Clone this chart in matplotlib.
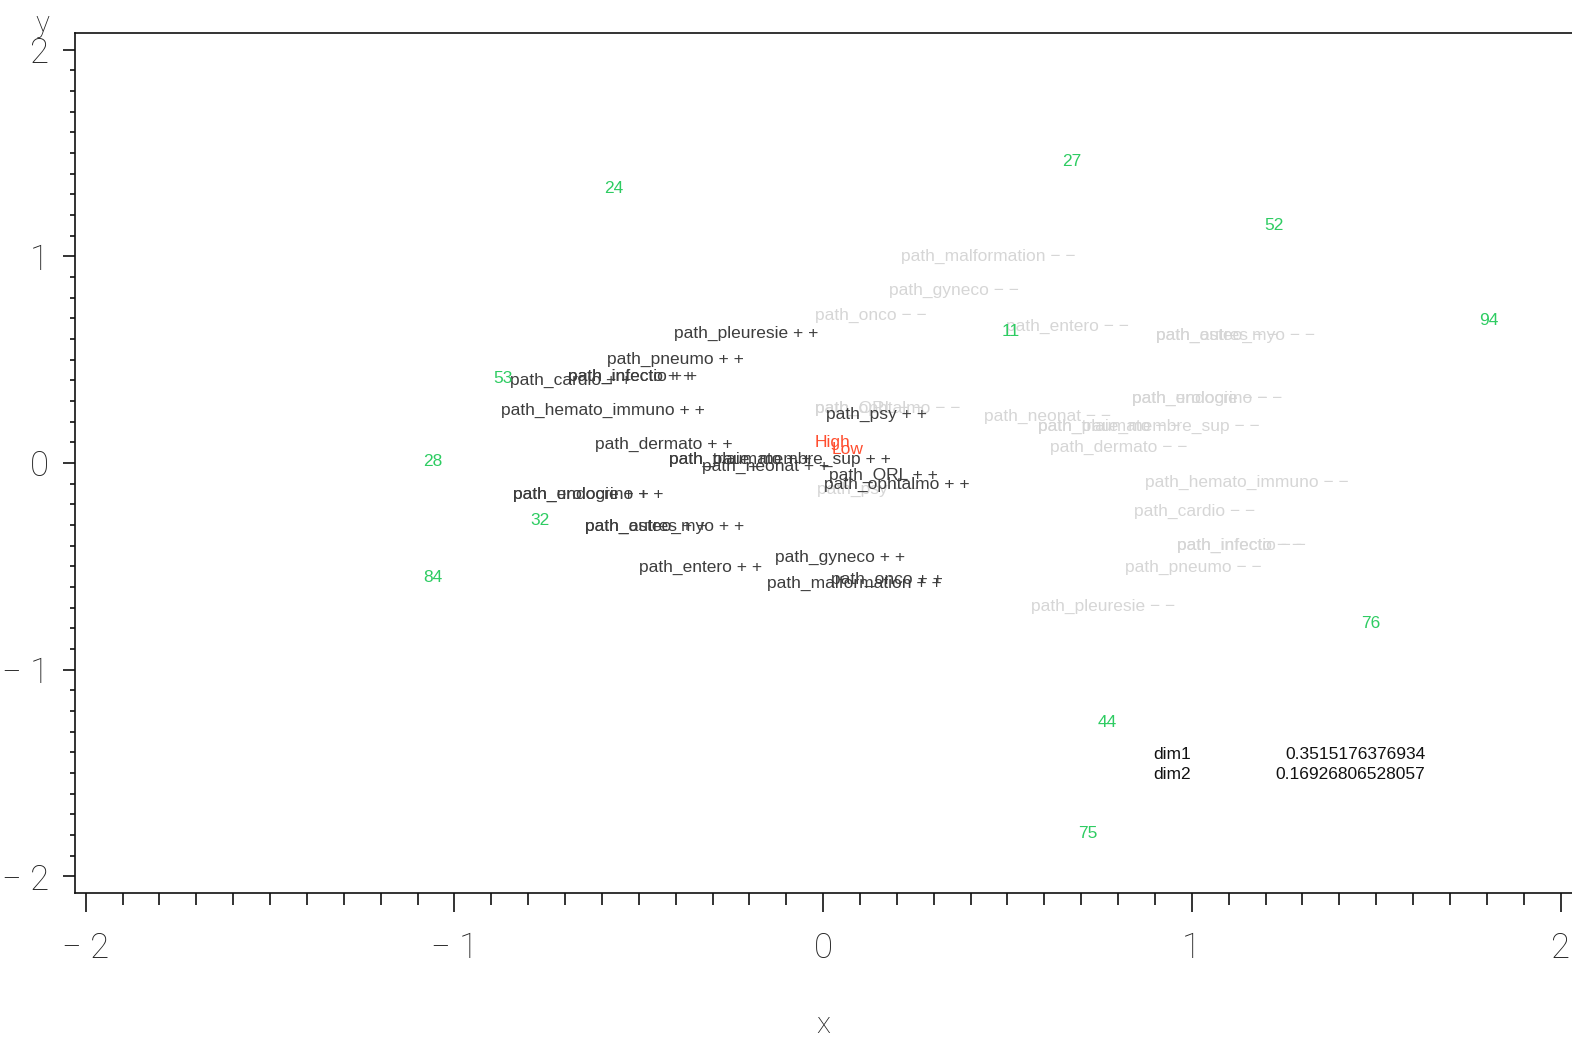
import matplotlib
matplotlib.use("Agg")
import matplotlib.pyplot as plt
from matplotlib.ticker import MultipleLocator, FixedLocator

# ---------------- data ----------------
# "high" modalities (+ +): left edge x, centre y of label
high_names = ["path_pleuresie", "path_pneumo", "path_infectio", "path_infecto", "path_cardio",
              "path_hemato_immuno", "path_dermato", "path_plaie_membre_sup", "path_traumato",
              "path_neonat", "path_endocrino", "path_urologie", "path_osteo_myo", "path_autres",
              "path_entero", "path_gyneco", "path_malformation", "path_onco", "path_ORL",
              "path_ophtalmo", "path_psy"]
high_x = [-0.404, -0.586, -0.692, -0.692, -0.849, -0.873, -0.618, -0.418, -0.418,
          -0.328, -0.841, -0.841, -0.646, -0.646, -0.499, -0.130, -0.152, 0.022, 0.016,
          0.003, 0.008]
high_y = [0.629, 0.503, 0.421, 0.421, 0.397, 0.256, 0.092, 0.015, 0.015,
          -0.015, -0.150, -0.150, -0.305, -0.305, -0.503, -0.455, -0.581, -0.561, -0.058,
          -0.102, 0.237]

# "low" modalities (- -)
low_names = ["path_malformation", "path_gyneco", "path_onco", "path_entero", "path_osteo_myo",
             "path_autres", "path_ORL", "path_ophtalmo", "path_psy", "path_neonat",
             "path_plaie_membre_sup", "path_traumato", "path_endocrino", "path_urologie",
             "path_dermato", "path_hemato_immuno", "path_cardio", "path_infectio",
             "path_infecto", "path_pneumo", "path_pleuresie"]
low_x = [0.212, 0.179, -0.022, 0.496, 0.903, 0.903, -0.022, -0.022, -0.016, 0.437,
         0.583, 0.583, 0.838, 0.838, 0.616, 0.873, 0.844, 0.960, 0.960, 0.819, 0.564]
low_y = [0.997, 0.837, 0.716, 0.663, 0.619, 0.619, 0.266, 0.266, -0.126, 0.223,
         0.179, 0.179, 0.314, 0.314, 0.073, -0.092, -0.232, -0.397, -0.397, -0.503, -0.692]

# individuals
id_labels = ["24", "27", "52", "94", "11", "53", "28", "32", "84", "76", "44", "75"]
id_x = [-0.567, 0.673, 1.223, 1.806, 0.510, -0.868, -1.060, -0.768, -1.058, 1.486, 0.770, 0.719]
id_y = [1.330, 1.456, 1.151, 0.687, 0.634, 0.411, 0.005, -0.276, -0.552, -0.774, -1.253, -1.790]

# supplementary
sup_labels = ["High", "Low"]
sup_x = [-0.024, 0.024]
sup_y = [0.097, 0.063]

# inertia
dim_names = ["dim1", "dim2"]
dim_values = ["0.3515176376934", "0.16926806528057"]

xticks = [-2, -1, 0, 1, 2]
yticks = [-2, -1, 0, 1, 2]

# ---------------- style ----------------
DARK = "#3d3d3d"
LIGHT = "#d6d6d6"
GREEN = "#2ecc62"
RED = "#ff4d2e"
FONT = ["Liberation Sans", "DejaVu Sans"]
TICKFONT = ["Roboto", "DejaVu Sans"]
FS = 12.5

W, H = 1572, 1040
fig = plt.figure(figsize=(W / 100, H / 100), dpi=100)
ax = fig.add_axes([75 / W, (H - 893) / H, 1 - 75 / W, (893 - 33) / H])
ax.set_xlim(-2.029, 2.031)
ax.set_ylim(-2.080, 2.080)

for s in ["left", "bottom", "top"]:
    ax.spines[s].set_linewidth(1.2)
    ax.spines[s].set_color("#111111")
ax.spines["right"].set_visible(False)

ax.xaxis.set_major_locator(FixedLocator(xticks))
ax.yaxis.set_major_locator(FixedLocator(yticks))
ax.xaxis.set_minor_locator(MultipleLocator(0.1))
ax.yaxis.set_minor_locator(MultipleLocator(0.1))

def lab(v):
    return ("\u2212 " + str(abs(v))) if v < 0 else str(v)

tick_kw = dict(family=TICKFONT, fontsize=25, color="#222222", fontweight="light")
ax.set_xticklabels([lab(v) for v in xticks], **tick_kw)
ax.set_yticklabels([lab(v) for v in yticks], **tick_kw)
ax.tick_params(axis="x", which="major", length=14, width=1.2, pad=14, color="#111111")
ax.tick_params(axis="x", which="minor", length=8.5, width=1.2, color="#111111")
ax.tick_params(axis="y", which="major", length=8.5, width=1.2, pad=10, color="#111111")
ax.tick_params(axis="y", which="minor", length=3.6, width=1.2, color="#111111")

# axis titles
fig.text(823 / W, 1 - 1025 / H, "x", family=TICKFONT, fontsize=21, color="#222222",
         fontweight="light", ha="center", va="center")
fig.text(42 / W, 1 - 24 / H, "y", family=TICKFONT, fontsize=21, color="#222222",
         fontweight="light", ha="center", va="center")

# labels
for n, x, y in zip(low_names, low_x, low_y):
    ax.text(x, y, n + " \u2212 \u2212", color=LIGHT, fontsize=FS, family=FONT,
            ha="left", va="center", clip_on=True)
for n, x, y in zip(high_names, high_x, high_y):
    ax.text(x, y, n + " + +", color=DARK, fontsize=FS, family=FONT,
            ha="left", va="center", clip_on=True)
for n, x, y in zip(id_labels, id_x, id_y):
    ax.text(x, y, n, color=GREEN, fontsize=FS, family=FONT, ha="center", va="center")
for n, x, y in zip(sup_labels, sup_x, sup_y):
    ax.text(x, y, n, color=RED, fontsize=FS, family=FONT, ha="left", va="center")

dim_y = [-1.408, -1.509]
for n, v, y in zip(dim_names, dim_values, dim_y):
    ax.text(0.895, y, n, color="#111111", fontsize=FS, family=FONT, ha="left", va="center")
    ax.text(1.633, y, v, color="#111111", fontsize=FS, family=FONT, ha="right", va="center")

fig.savefig("out.png", dpi=100, facecolor="white")
